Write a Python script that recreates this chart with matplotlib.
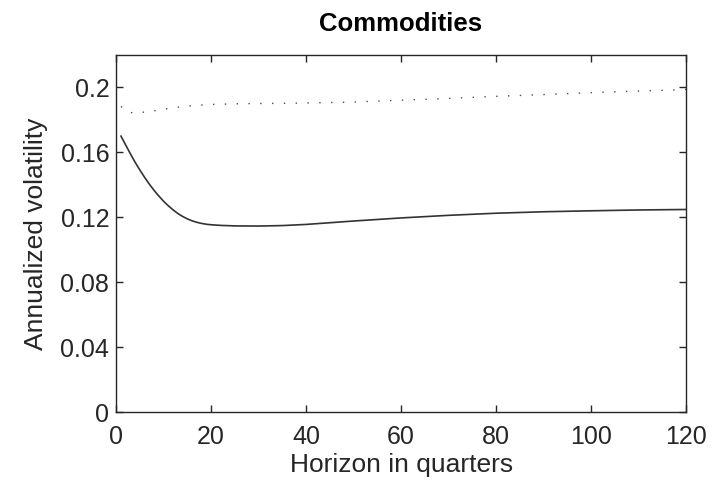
import numpy as np
import matplotlib.pyplot as plt

plt.rcParams['font.family'] = ['Liberation Sans', 'DejaVu Sans']

# horizon (quarters) and annualized volatilities
quarters = [1, 2, 3, 4, 5, 6, 7, 8, 9, 10, 11, 12, 13, 14, 15, 16, 17, 18, 19, 20,
            22, 25, 30, 35, 40, 50, 60, 70, 80, 90, 100, 110, 120]
vol_solid = [0.1700, 0.1645, 0.1590, 0.1538, 0.1490, 0.1445, 0.1403, 0.1365,
             0.1330, 0.1298, 0.1270, 0.1245, 0.1223, 0.1205, 0.1190, 0.1178,
             0.1169, 0.1162, 0.1157, 0.1154, 0.1150, 0.1147, 0.1146, 0.1149,
             0.1156, 0.1177, 0.1196, 0.1212, 0.1225, 0.1234, 0.1240, 0.1245, 0.1248]

quarters_dot = [1, 2, 3, 4, 6, 8, 11, 14, 17, 20, 27, 35, 42, 50, 59, 70, 81, 92,
                102, 111, 120]
vol_dot = [0.1883, 0.1860, 0.1845, 0.1843, 0.1848, 0.1856, 0.1870, 0.1882, 0.1890,
           0.1895, 0.1900, 0.1902, 0.1905, 0.1910, 0.1920, 0.1932, 0.1946, 0.1958,
           0.1970, 0.1978, 0.1987]

fig = plt.figure(figsize=(7.13, 4.86), dpi=100)
ax = fig.add_axes([0.163, 0.152, 0.799, 0.735])

ax.plot(quarters, vol_solid, color='0.2', lw=1.2)
ax.plot(quarters_dot, vol_dot, color='0.3', lw=1.0, linestyle=(0, (1, 7.5)))

ax.set_xlim(0, 120)
ax.set_ylim(0, 0.22)
ax.set_xticks(np.arange(0, 121, 20))
ax.set_yticks([0, 0.04, 0.08, 0.12, 0.16, 0.2])
ax.set_yticklabels(['0', '0.04', '0.08', '0.12', '0.16', '0.2'])
ax.tick_params(direction='in', top=True, right=True, labelsize=18, length=5,
               width=1, colors='0.15')
ax.tick_params(axis='x', pad=9)
ax.tick_params(axis='y', pad=5)
for s in ax.spines.values():
    s.set_linewidth(1.0)
    s.set_color('0.15')

ax.set_xlabel('Horizon in quarters', fontsize=19, color='0.15', labelpad=3)
ax.set_ylabel('Annualized volatility', fontsize=19, color='0.15', labelpad=9)
ax.set_title('Commodities', fontsize=18.5, fontweight='bold', pad=17)

fig.savefig('out.png', dpi=100)
